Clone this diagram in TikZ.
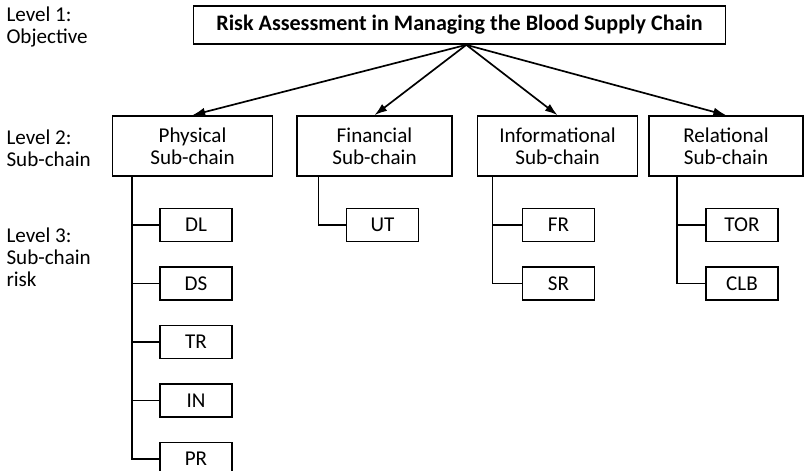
\documentclass[tikz,border=0pt]{standalone}
\usepackage{fontspec}
\setmainfont{Carlito}
\usetikzlibrary{positioning,arrows.meta}

\begin{document}
\begin{tikzpicture}[x=0.025cm, y=-0.025cm, node distance=0.6cm, line width=1.2pt,
    font=\fontsize{15}{15.5}\selectfont]

    % Define styles
    \tikzstyle{goal} = [draw, rectangle, minimum width=13.3cm, minimum height=0.95cm, font=\fontsize{15.7}{16}\selectfont\bfseries]
    \tikzstyle{sub} = [draw, rectangle, align=center, minimum width=4cm, minimum height=1.5cm]
    \tikzstyle{risk} = [draw, rectangle, minimum width=1.8cm, minimum height=0.82cm]
    \tikzstyle{lvl} = [anchor=west, align=left]
    \tikzstyle{arr} = [-{Latex[length=9pt, width=6pt]}]

    \useasboundingbox (0,0) rectangle (804,470);

    % LEVEL LABELS
    \node (lvl1) [lvl] at (1,27) {Level 1:\\Objective};
    \node (lvl2) [lvl] at (1,148) {Level 2:\\Sub-chain};
    \node (lvl3) [lvl] at (1,257) {Level 3:\\Sub-chain\\risk};

    % OBJECTIVE
    \node (goal) [goal] at (459.5,25) {Risk Assessment in Managing the Blood Supply Chain};

    % SUB-CHAINS
    \node (phys) [sub] at (192.5,146) {Physical\\Sub-chain};
    \node (fin) [sub, minimum width=3.875cm] at (374.5,146) {Financial\\Sub-chain};
    \node (info) [sub] at (557.5,146) {Informational\\Sub-chain};
    \node (rel) [sub, minimum width=3.85cm] at (726,146) {Relational\\Sub-chain};

    % RISKS
    \node (dl) [risk] at (196,225) {DL};
    \node (ds) [risk, below=of dl] {DS};
    \node (tr) [risk, below=of ds] {TR};
    \node (in) [risk, below=of tr] {IN};
    \node (pr) [risk, below=of in] {PR};

    \node (ut) [risk] at (382.5,225) {UT};

    \node (fr) [risk] at (558.5,225) {FR};
    \node (sr) [risk, below=of fr] {SR};

    \node (tor) [risk] at (742,225) {TOR};
    \node (clb) [risk, below=of tor] {CLB};

    % CONNECTIONS
    \draw[arr] ([xshift=0.17cm]goal.south) -- (phys.north);
    \draw[arr] ([xshift=0.17cm]goal.south) -- (fin.north);
    \draw[arr] ([xshift=0.17cm]goal.south) -- (info.north);
    \draw[arr] ([xshift=0.17cm]goal.south) -- (rel.north);

    % Sub-chain to risk
    \draw ([xshift=-0.675cm]dl.west |- phys.south) |- (pr.west);
    \draw (dl.west) -- ++(-27,0);
    \draw (ds.west) -- ++(-27,0);
    \draw (tr.west) -- ++(-27,0);
    \draw (in.west) -- ++(-27,0);

    \draw ([xshift=-0.675cm]ut.west |- fin.south) |- (ut.west);

    \draw ([xshift=-0.725cm]fr.west |- info.south) |- (sr.west);
    \draw (fr.west) -- ++(-29,0);

    \draw ([xshift=-0.7cm]tor.west |- rel.south) |- (clb.west);
    \draw (tor.west) -- ++(-28,0);

\end{tikzpicture}
\end{document}
